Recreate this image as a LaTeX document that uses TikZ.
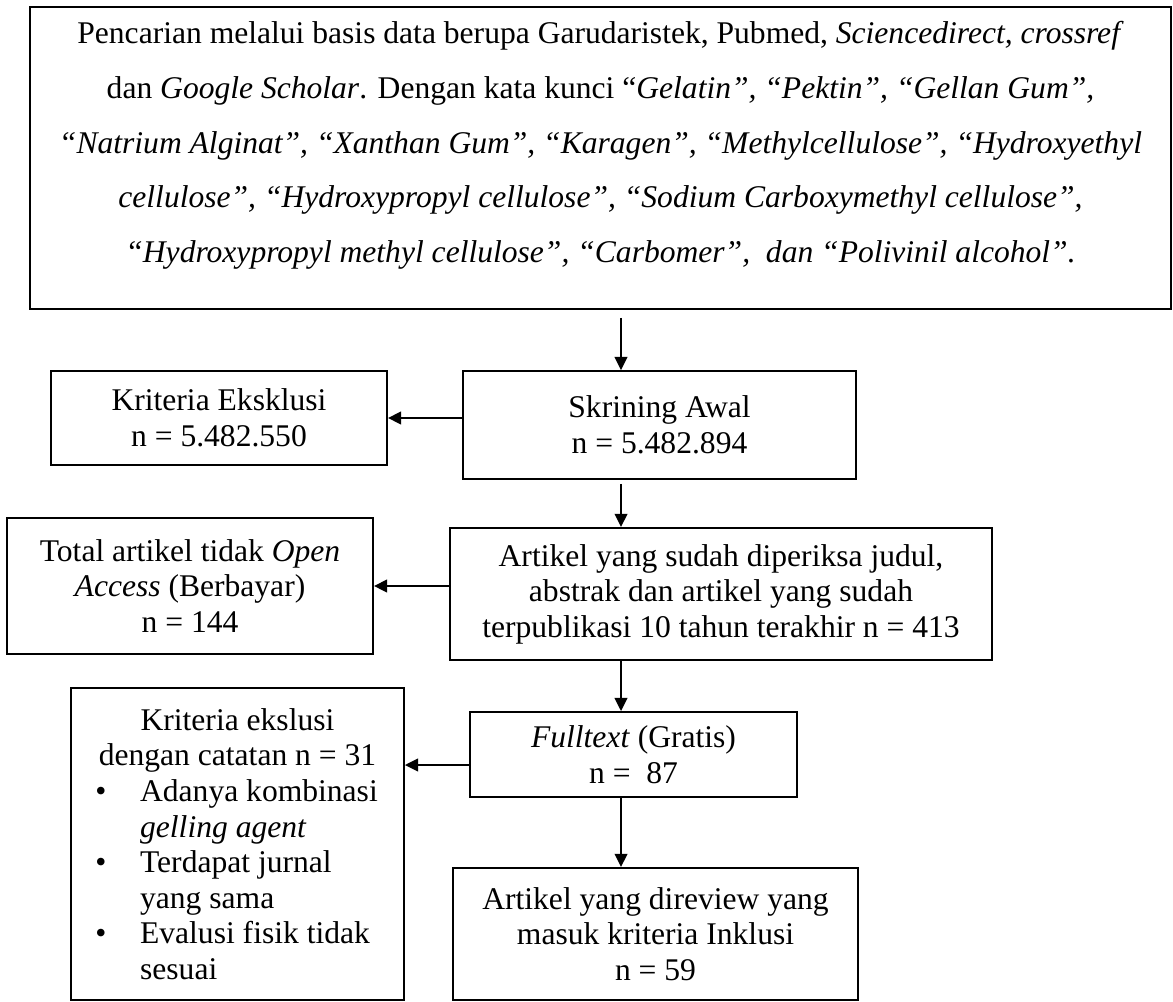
\documentclass[tikz,border=0pt]{standalone}
\usepackage{fontspec}
\setmainfont{Liberation Serif}
\usetikzlibrary{arrows.meta}
\begin{document}
\begin{tikzpicture}[x=0.38pt,y=-0.38pt,font=\fontsize{12}{13.5}\selectfont,
    kotak/.style={draw,line width=0.7pt,align=center,inner sep=0pt},
    panah/.style={line width=0.7pt,-{Triangle[length=5pt,width=4.8pt]}}]
\useasboundingbox (0,0) rectangle (1173,1002);
% pencarian
\node[kotak,minimum width=433.6pt,minimum height=114.8pt] (cari) at (600.5,158)
  {\parbox[c][114.8pt][t]{433pt}{\centering\fontsize{12}{20.8}\selectfont\vspace*{5.5pt}%
  Pencarian melalui basis data berupa Garudaristek, Pubmed, \textit{Sciencedirect, crossref}\\
  dan \textit{Google Scholar}. Dengan kata kunci “\textit{Gelatin”, “Pektin”, “Gellan Gum”,}\\
  \textit{“Natrium Alginat”, “Xanthan Gum”, “Karagen”, “Methylcellulose”, “Hydroxyethyl}\\
  \textit{cellulose”, “Hydroxypropyl cellulose”, “Sodium Carboxymethyl cellulose”,}\\
  \textit{“Hydroxypropyl methyl cellulose”, “Carbomer”,\ \ dan “Polivinil alcohol”.}}};
% kolom kanan
\node[kotak,minimum width=149.3pt,minimum height=41pt] (skrining) at (659.5,425)
  {Skrining Awal\\n = 5.482.894};
\node[kotak,minimum width=206pt,minimum height=50.2pt] (artikel) at (721,594)
  {Artikel yang sudah diperiksa judul,\\abstrak dan artikel yang sudah\\terpublikasi 10 tahun terakhir n = 413};
\node[kotak,minimum width=124.3pt,minimum height=32.3pt] (fulltext) at (633.5,754.5)
  {\textit{Fulltext} (Gratis)\\n =\ \ 87};
\node[kotak,minimum width=153.9pt,minimum height=50.2pt] (inklusi) at (655.5,934)
  {Artikel yang direview yang\\masuk kriteria Inklusi\\n = 59};
% kolom kiri
\node[kotak,minimum width=127.7pt,minimum height=35.7pt] (eksklusi) at (219,418)
  {Kriteria Eksklusi\\n = 5.482.550};
\node[kotak,minimum width=139.1pt,minimum height=51.7pt] (berbayar) at (190,586)
  {Total artikel tidak \textit{Open}\\\textit{Access} (Berbayar)\\n = 144};
\node[kotak,align=left,minimum width=126.5pt,minimum height=118.6pt] (catatan) at (237.5,844)
  {\makebox[108pt][c]{Kriteria ekslusi}\\
  \makebox[108pt][c]{dengan catatan n = 31}\\
  \makebox[17pt][l]{\textbullet}Adanya kombinasi\\
  \hspace*{17pt}\textit{gelling agent}\\
  \makebox[17pt][l]{\textbullet}Terdapat jurnal\\
  \hspace*{17pt}yang sama\\
  \makebox[17pt][l]{\textbullet}Evalusi fisik tidak\\
  \hspace*{17pt}sesuai};
% panah
\coordinate (tulang) at (621,0);
\draw[panah,shorten <=3pt] (cari.south -| tulang) -- (skrining.north -| tulang);
\draw[panah,shorten <=1.5pt] (skrining.south -| tulang) -- (artikel.north -| tulang);
\draw[panah] (artikel.south -| tulang) -- (fulltext.north -| tulang);
\draw[panah] (fulltext.south -| tulang) -- (inklusi.north -| tulang);
\draw[panah] (skrining.west |- eksklusi.east) -- (eksklusi.east);
\draw[panah] (artikel.west |- berbayar.east) -- (berbayar.east);
\coordinate (kiri) at ([yshift=-4pt]fulltext.west);
\draw[panah] (kiri) -- (kiri -| catatan.east);
\end{tikzpicture}
\end{document}
